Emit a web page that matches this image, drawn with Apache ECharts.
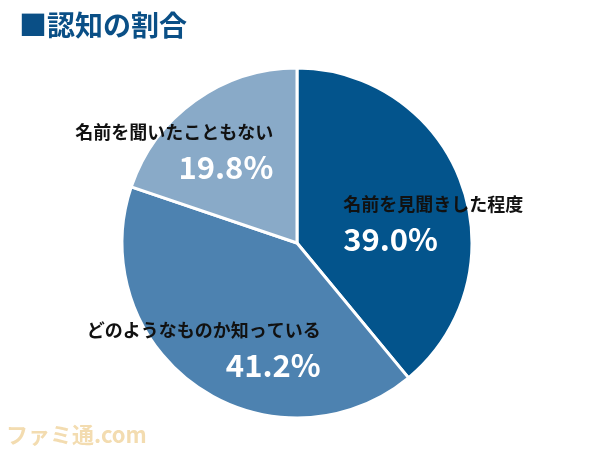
<!DOCTYPE html><html><head><meta charset="utf-8"><script src="https://cdn.jsdelivr.net/npm/echarts@6/dist/echarts.min.js"></script></head><body style="margin:0;background:#fff"><div id="c" style="width:596px;height:450px"></div><script>
const categories=['名前を見聞きした程度','どのようなものか知っている','名前を聞いたこともない'];
const values=[39.0,41.2,19.8];
const colors=['#03548c','#4d82b0','#89aac8'];
const aligns=['left','right','right'];
const offsets=[[51,10],[-42,31],[-70,-19]];
const ch=echarts.init(document.getElementById('c'));
ch.setOption({
 animation:false,
 title:{text:'■認知の割合',left:14,top:6,textStyle:{color:'#0a4f86',fontSize:28,fontWeight:'bold',fontFamily:'Noto Sans CJK JP'}},
 graphic:[{type:'text',left:6,bottom:4,style:{text:'ファミ通.com',fontSize:22,fontWeight:'bold',fill:'#f3dcb0',fontFamily:'Noto Sans CJK JP'}}],
 series:[{type:'pie',center:[297,243],radius:[0,175],startAngle:90,clockwise:true,
  itemStyle:{borderColor:'#fff',borderWidth:3},labelLine:{show:false},
  data:categories.map((n,i)=>({name:n,value:values[i],itemStyle:{color:colors[i]},
   label:{show:true,position:'inside',align:'center',offset:offsets[i],
    formatter:p=>'{n|'+p.name+'}\n{v|'+p.value.toFixed(1)+'%}',
    rich:{n:{fontSize:18,fontWeight:'bold',color:'#111',fontFamily:'Noto Sans CJK JP',lineHeight:34,align:aligns[i]},
          v:{fontSize:31,fontWeight:'bold',color:'#fff',fontFamily:'Noto Sans CJK JP',lineHeight:36,align:aligns[i]}}}}))
 }]
});
</script></body></html>
